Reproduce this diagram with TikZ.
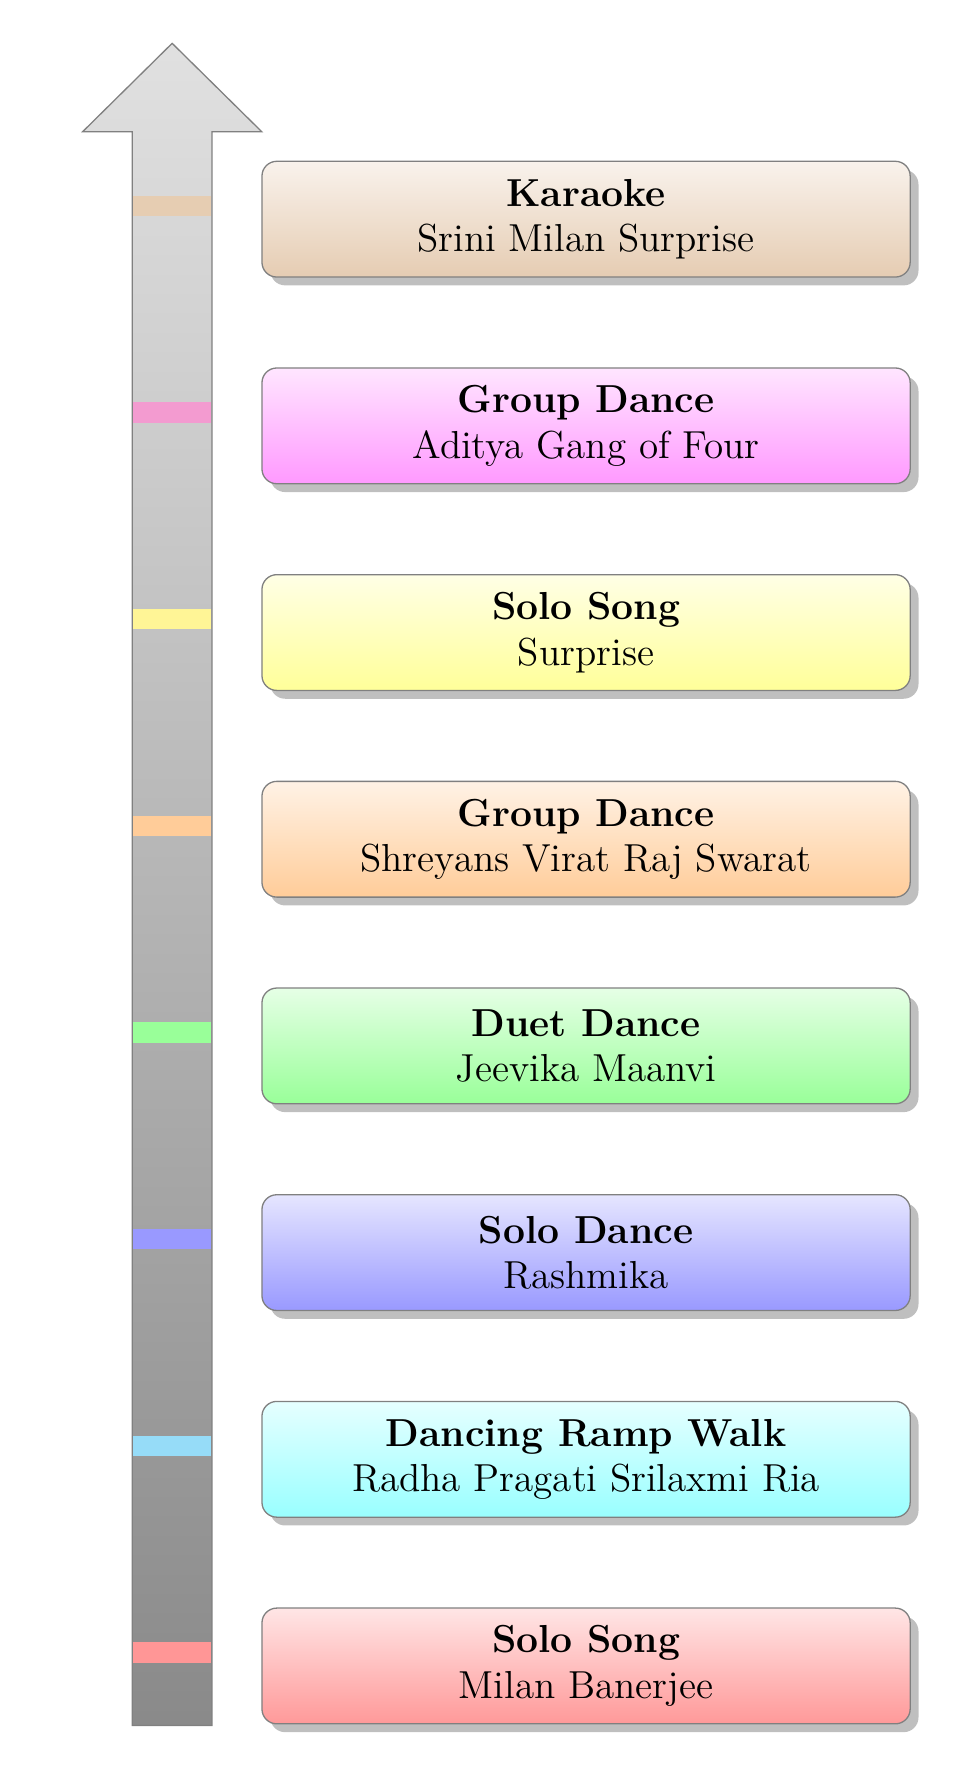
\documentclass[tikz,border=0pt]{standalone}
\usetikzlibrary{shadows}

\definecolor{bandbrown}{RGB}{230,205,178}
\definecolor{bandpink}{RGB}{243,155,208}
\definecolor{bandyellow}{RGB}{255,245,150}
\definecolor{bandorange}{RGB}{255,204,153}
\definecolor{bandgreen}{RGB}{153,255,153}
\definecolor{bandblue}{RGB}{153,153,255}
\definecolor{bandsky}{RGB}{150,220,248}
\definecolor{bandred}{RGB}{255,150,150}

\tikzset{
    act/.style={draw=gray, rounded corners=0.16cm, minimum width=7cm,
        minimum height=1.25cm, align=center, font=\large,
        top color=#1!10, bottom color=#1!40,
        drop shadow={shadow xshift=0.09cm, shadow yshift=-0.09cm}},
    slot/.style={fill=#1, minimum width=0.84cm, minimum height=0.22cm,
        inner sep=0pt}
}

\begin{document}
\begin{tikzpicture}
    \useasboundingbox (0, 0) rectangle (10.443, 19.082);

    % Time arrow
    \shadedraw[top color=black!12, bottom color=black!46, draw=gray]
        (1.428, 0.448) -- (1.428, 17.660) -- (0.893, 17.660) -- (1.859, 18.614)
        -- (2.826, 17.660) -- (2.289, 17.660) -- (2.289, 0.448) -- cycle;

    % Marks on the arrow
    \node[slot=bandred]    (s1) at (1.859, 1.235) {};
    \node[slot=bandsky]    (s2) at (1.859, 3.467) {};
    \node[slot=bandblue]   (s3) at (1.859, 5.699) {};
    \node[slot=bandgreen]  (s4) at (1.859, 7.931) {};
    \node[slot=bandorange] (s5) at (1.859, 10.163) {};
    \node[slot=bandyellow] (s6) at (1.859, 12.395) {};
    \node[slot=bandpink]   (s7) at (1.859, 14.627) {};
    \node[slot=bandbrown]  (s8) at (1.859, 16.859) {};

    % Acts
    \node[act=red] (a1) at (6.329, 1.091)
        {\textbf{Solo Song}\\Milan Banerjee};
    \node[act=cyan] (a2) at (6.329, 3.323)
        {\textbf{Dancing Ramp Walk}\\Radha Pragati Srilaxmi Ria};
    \node[act=blue] (a3) at (6.329, 5.555)
        {\textbf{Solo Dance}\\Rashmika};
    \node[act=green] (a4) at (6.329, 7.787)
        {\textbf{Duet Dance}\\Jeevika Maanvi};
    \node[act=orange] (a5) at (6.329, 10.019)
        {\textbf{Group Dance}\\Shreyans Virat Raj Swarat};
    \node[act=yellow] (a6) at (6.329, 12.251)
        {\textbf{Solo Song}\\Surprise};
    \node[act=magenta] (a7) at (6.329, 14.483)
        {\textbf{Group Dance}\\Aditya Gang of Four};
    \node[act=brown] (a8) at (6.329, 16.715)
        {\textbf{Karaoke}\\Srini Milan Surprise};
\end{tikzpicture}
\end{document}
